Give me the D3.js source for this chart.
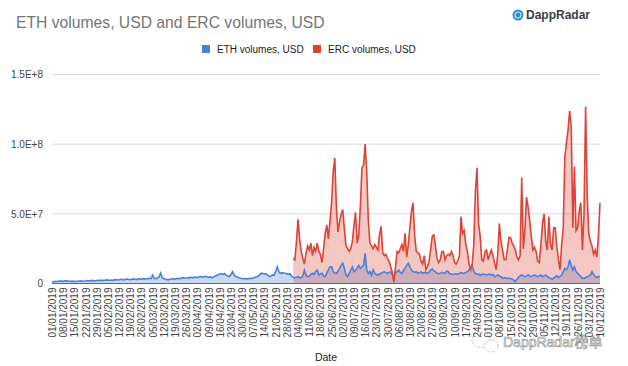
<!DOCTYPE html>
<html><head><meta charset="utf-8">
<script src="https://cdn.jsdelivr.net/npm/d3@7"></script>
<style>
html,body{margin:0;padding:0;background:#fff;}
svg{display:block;font-family:"Liberation Sans",Arial,sans-serif;}
</style></head>
<body><svg id="chart" width="628" height="366"></svg>
<script>
// ETH volumes, USD (millions), daily from 01/01/2019
const ethM = [
1.2,1.3,1.5,1.4,1.6,1.8,1.7,1.5,2.0,1.9,
1.8,1.6,1.5,1.7,1.4,1.5,1.6,1.8,1.9,1.7,
1.6,1.8,2.1,2.0,1.9,2.2,2.0,1.8,2.1,2.3,
2.2,2.4,2.1,2.3,2.6,2.4,2.2,2.5,2.3,2.6,
2.8,2.5,2.7,3.0,2.8,2.6,3.0,3.2,2.9,2.7,
3.1,3.3,3.0,2.8,3.2,3.5,3.1,3.4,3.3,3.2,
3.5,3.8,3.6,6.0,3.7,3.5,3.9,4.8,7.5,4.2,
3.6,3.0,2.8,2.6,3.0,3.2,3.4,3.1,3.5,3.7,
3.3,3.9,4.2,3.8,4.0,4.3,3.9,4.5,4.1,4.4,
4.6,4.2,4.8,5.0,4.6,4.9,5.2,4.7,4.4,4.8,
4.1,4.6,5.3,5.8,6.2,6.8,7.0,6.5,7.2,6.0,
5.4,5.0,6.2,8.5,6.0,5.1,4.6,4.2,3.8,3.6,
3.4,3.6,3.3,3.5,3.8,3.6,4.0,4.4,4.8,5.2,
6.4,7.5,7.2,6.8,7.0,5.8,5.0,5.4,6.2,6.0,
8.5,12.0,8.5,7.2,7.8,7.5,7.3,6.8,6.5,7.0,
5.2,4.6,4.0,4.4,4.9,4.2,4.0,5.5,9.5,6.0,
5.0,5.2,6.5,7.3,6.4,8.5,9.7,6.1,6.8,7.3,
5.5,5.0,7.5,9.7,12.0,12.0,8.5,7.4,7.3,9.0,
10.9,13.0,14.5,10.9,6.1,4.9,7.3,9.7,12.0,8.5,
9.5,10.9,13.0,10.9,12.0,13.0,21.7,9.7,7.3,8.5,
6.1,9.7,7.3,6.5,6.1,6.8,7.3,8.0,8.5,7.8,
7.3,8.0,8.5,6.5,4.9,7.5,8.5,9.7,8.0,7.3,
9.5,11.0,13.0,14.5,12.0,9.7,8.5,8.0,8.5,7.3,
7.8,8.5,7.3,7.8,8.0,7.3,8.0,9.7,10.5,9.0,
8.5,7.3,7.0,7.3,8.0,7.5,7.3,9.0,8.5,7.0,
6.8,6.5,6.8,7.0,6.5,7.3,7.8,7.5,7.3,8.0,
8.5,9.7,10.9,13.0,9.0,7.3,6.5,6.8,6.1,6.5,
6.8,6.5,6.1,6.5,6.8,6.1,6.5,4.9,5.5,6.1,
5.5,4.9,3.7,4.3,4.0,3.7,3.7,3.5,3.2,2.5,
1.3,3.0,4.5,5.5,6.1,5.5,4.9,5.5,6.1,5.5,
4.9,5.5,6.1,5.5,4.9,5.5,6.1,4.9,5.5,6.1,
4.9,4.3,3.7,3.2,3.7,4.9,5.5,4.3,4.9,6.1,
8.5,10.9,9.7,12.0,17.0,13.0,9.7,12.0,8.5,7.3,
6.1,4.9,3.7,3.7,4.3,4.9,5.5,6.1,8.5,6.5,
4.9,4.3,4.9,4.9
];
// ERC volumes, USD (millions), daily from 01/06/2019
const ercM = [
18,17,30,46,32,23,18,14,22,27,
24,29,20,26,23,29,23,21,15,25,
36,42,32,45,58,80,90,55,37,44,
50,53,39,27,25,23,25,30,42,51,
29,35,55,83,85,100,80,45,29,27,
25,28,26,24,35,41,22,20,21,18,
16,12,8,1,12,23,22,25,28,23,
36,19,28,40,52,58,34,23,22,21,
16,14,20,10,12,16,24,34,35,27,
18,15,17,23,23,17,20,21,20,23,
20,15,14,16,20,48,36,38,28,23,
14,10,14,28,66,83,43,34,17,16,
23,24,17,21,24,20,15,10,21,43,
30,24,17,17,24,33,33,29,27,24,
19,17,20,76,25,38,62,55,45,34,
24,26,23,16,15,28,43,50,31,24,
48,28,24,40,40,26,17,10,28,40,
91,101,110,124,112,40,84,38,40,52,
58,24,50,127,62,36,30,27,21,24,
19,34,58
];
const seriesNames = ["ETH volumes, USD", "ERC volumes, USD"];
const seriesColors = ["#4a80dc", "#db4437"];
const yTickValues = [0, 5e7, 1e8, 1.5e8];
const yTickLabels = ["0", "5.0E+7", "1.0E+8", "1.5E+8"];
const ethStart = new Date(Date.UTC(2019, 0, 1));
const ercStart = new Date(Date.UTC(2019, 5, 1));
const endDate = new Date(Date.UTC(2019, 11, 10));

const eth = ethM.map((v, i) => ({date: d3.utcDay.offset(ethStart, i), v: v * 1e6}));
const erc = ercM.map((v, i) => ({date: d3.utcDay.offset(ercStart, i), v: v * 1e6}));

const svg = d3.select("#chart");
const L = 52, R = 600, T = 74.5, B = 283.5;
const x = d3.scaleUtc().domain([ethStart, endDate]).range([L, R]);
const y = d3.scaleLinear().domain([0, 1.5e8]).range([B, T]);

// title
svg.append("text").attr("x", 16).attr("y", 28).attr("font-size", 15.7)
  .attr("fill", "#757575").text("ETH volumes, USD and ERC volumes, USD");

// logo
const logo = svg.append("g");
logo.append("circle").attr("cx", 518).attr("cy", 15).attr("r", 5.5).attr("fill", "#2d8fd0");
logo.append("circle").attr("cx", 518).attr("cy", 15).attr("r", 3).attr("fill", "none").attr("stroke", "#bfe6f5").attr("stroke-width", 1.2);
logo.append("text").attr("x", 526).attr("y", 19).attr("font-size", 12).attr("font-weight", "bold")
  .attr("fill", "#3a3f4b").text("DappRadar");

// legend
const legX = [202, 313];
seriesNames.forEach((n, i) => {
  svg.append("rect").attr("x", legX[i]).attr("y", 45).attr("width", 8).attr("height", 8).attr("fill", seriesColors[i]);
  svg.append("text").attr("x", legX[i] + 15).attr("y", 52.5).attr("font-size", 10).attr("fill", "#222").text(n);
});

// gridlines + y labels
const yAxis = d3.axisLeft(y).tickValues(yTickValues).tickSize(0).tickFormat((d, i) => yTickLabels[i]);
const gy = svg.append("g").attr("transform", `translate(${L - 6},0)`).call(yAxis);
gy.select(".domain").remove();
gy.selectAll("text").attr("font-size", 10).attr("fill", "#444").attr("font-family", "Liberation Sans,Arial,sans-serif");
svg.append("g").selectAll("line").data(yTickValues.slice(1)).join("line")
  .attr("x1", L).attr("x2", R).attr("y1", d => y(d)).attr("y2", d => y(d))
  .attr("stroke", "#d9d9d9").attr("stroke-width", 1);

// areas
const area = d3.area().x(d => x(d.date)).y0(y(0)).y1(d => y(d.v));
const line = d3.line().x(d => x(d.date)).y(d => y(d.v));
svg.append("path").datum(eth).attr("d", area).attr("fill", seriesColors[0]).attr("fill-opacity", 0.3);
svg.append("path").datum(erc).attr("d", area).attr("fill", seriesColors[1]).attr("fill-opacity", 0.3);
svg.append("path").datum(eth).attr("d", line).attr("fill", "none").attr("stroke", seriesColors[0]).attr("stroke-width", 1.6);
svg.append("path").datum(erc).attr("d", line).attr("fill", "none").attr("stroke", seriesColors[1]).attr("stroke-width", 1.6);

// baseline
svg.append("line").attr("x1", L).attr("x2", R).attr("y1", B).attr("y2", B).attr("stroke", "#666").attr("stroke-width", 1);

// x axis
const xTicks = d3.utcDay.range(ethStart, d3.utcDay.offset(endDate, 1), 7);
const fmt = d3.utcFormat("%d/%m/%Y");
const xAxis = d3.axisBottom(x).tickValues(xTicks).tickSize(0).tickFormat(fmt);
const gx = svg.append("g").attr("transform", `translate(0,${B})`).call(xAxis);
gx.select(".domain").remove();
gx.selectAll("text").attr("font-size", 10).attr("fill", "#444")
  .attr("font-family", "Liberation Sans,Arial,sans-serif")
  .attr("text-anchor", "end").attr("dy", null).attr("y", 0)
  .attr("transform", "translate(3.5,4) rotate(-90)");

svg.append("text").attr("x", (L + R) / 2).attr("y", 361).attr("text-anchor", "middle")
  .attr("font-size", 10.5).attr("fill", "#222").text("Date");

// watermark
const wm = svg.append("g").attr("opacity", 0.85);
wm.append("ellipse").attr("cx", 481).attr("cy", 340).attr("rx", 9).attr("ry", 7.5).attr("fill", "none").attr("stroke", "#aaa").attr("stroke-width", 0.8).attr("stroke-dasharray", "2,1.5");
wm.append("ellipse").attr("cx", 491).attr("cy", 346).attr("rx", 7).attr("ry", 6).attr("fill", "#fff").attr("stroke", "#aaa").attr("stroke-width", 0.8).attr("stroke-dasharray", "2,1.5");
wm.append("text").attr("x", 503).attr("y", 347).attr("font-size", 14)
  .attr("font-family", "Liberation Sans,'Noto Sans CJK SC',sans-serif")
  .attr("fill", "#fff").attr("stroke", "#888").attr("stroke-width", 0.7).text("DappRadar榜单");
</script>
</body></html>
